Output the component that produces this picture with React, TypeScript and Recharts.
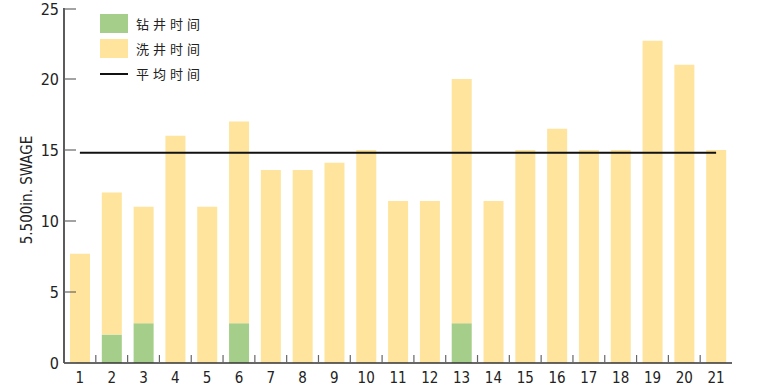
import { Bar, ComposedChart, Line, XAxis, YAxis } from "recharts";

const wells = ["1", "2", "3", "4", "5", "6", "7", "8", "9", "10", "11", "12", "13", "14", "15", "16", "17", "18", "19", "20", "21"];
const drillTime = [0, 2, 2.8, 0, 0, 2.8, 0, 0, 0, 0, 0, 0, 2.8, 0, 0, 0, 0, 0, 0, 0, 0];
const washTime = [7.7, 10, 8.2, 16, 11, 14.2, 13.6, 13.6, 14.1, 15, 11.4, 11.4, 17.2, 11.4, 15, 16.5, 15, 15, 22.7, 21, 15];
const avgTime = 14.8;
const yTicks = [0, 5, 10, 15, 20, 25];

const legendItems = [
  { label: "钻井时间", kind: "box", color: "#A4CE8A" },
  { label: "洗井时间", kind: "box", color: "#FEE49C" },
  { label: "平均时间", kind: "line", color: "#111" },
];

const W = 775;
const H = 388;
const PLOT_LEFT = 64;
const PLOT_RIGHT = 732;
const PLOT_TOP = 8;
const PLOT_BOTTOM = 363;
const BAND = (PLOT_RIGHT - PLOT_LEFT) / wells.length;
const FONT = '"Liberation Sans Narrow", "DejaVu Sans Condensed", "Liberation Sans", sans-serif';
const AXIS = { stroke: "#333", strokeWidth: 1.6 };

const rows = wells.map((w, i) => ({ well: w, drill: drillTime[i], wash: washTime[i], avg: avgTime }));

function WellTick({ x, payload, index }: any) {
  const bx = x - BAND / 2;
  return (
    <g>
      {index > 0 && <line x1={bx} x2={bx} y1={PLOT_BOTTOM} y2={PLOT_BOTTOM - 8} stroke="#666" strokeWidth={1.2} />}
      <text x={x} y={PLOT_BOTTOM + 20} textAnchor="middle" fontSize={15} fontFamily={FONT} fill="#222">
        {payload.value}
      </text>
    </g>
  );
}

function ValueTick({ y, payload }: any) {
  return (
    <g>
      <line x1={PLOT_LEFT} x2={PLOT_LEFT + 12} y1={y} y2={y} stroke="#666" strokeWidth={1.2} />
      <text x={PLOT_LEFT - 5} y={y + 6} textAnchor="end" fontSize={16} fontFamily={FONT} fill="#222">
        {payload.value}
      </text>
    </g>
  );
}

function Legend() {
  return (
    <div style={{ position: "absolute", left: 100, top: 13, fontFamily: '"Noto Sans CJK SC", sans-serif', fontSize: 13, color: "#222" }}>
      {legendItems.map((it) => (
        <div key={it.label} style={{ display: "flex", alignItems: "center", height: 29, marginTop: -4 }}>
          <div style={{ width: 28, height: 19, display: "flex", alignItems: "center" }}>
            {it.kind === "box" ? (
              <div style={{ width: 28, height: 19, background: it.color }} />
            ) : (
              <div style={{ width: 28, height: 2, background: it.color }} />
            )}
          </div>
          <span style={{ marginLeft: 8, letterSpacing: 4 }}>{it.label}</span>
        </div>
      ))}
    </div>
  );
}

export default function App() {
  return (
    <div style={{ position: "absolute", left: 0, top: 0, width: W, height: H, background: "#fff" }}>
      <ComposedChart
        width={W}
        height={H}
        data={rows}
        margin={{ top: PLOT_TOP, right: W - PLOT_RIGHT, bottom: 0, left: PLOT_LEFT - 40 }}
        barCategoryGap="18%"
      >
        <XAxis dataKey="well" height={H - PLOT_BOTTOM} tick={<WellTick />} tickLine={false} axisLine={AXIS} interval={0} />
        <XAxis dataKey="well" xAxisId="top" orientation="top" height={0} tick={false} tickLine={false} axisLine={AXIS} />
        <YAxis
          width={40}
          domain={[0, 25]}
          ticks={yTicks}
          tick={<ValueTick />}
          tickLine={false}
          axisLine={AXIS}
          label={{
            content: () => (
              <text
                x={27}
                y={190}
                transform="rotate(-90 27 190)"
                textAnchor="middle"
                dominantBaseline="central"
                fontSize={15}
                fontFamily={FONT}
                fill="#222"
              >
                5.500in. SWAGE
              </text>
            ),
          }}
        />
        <YAxis yAxisId="right" orientation="right" width={0} domain={[0, 25]} tick={false} tickLine={false} axisLine={AXIS} />
        <Bar dataKey="drill" stackId="t" fill="#A4CE8A" barSize={20} isAnimationActive={false} />
        <Bar dataKey="wash" stackId="t" fill="#FEE49C" barSize={20} isAnimationActive={false} />
        <Line dataKey="avg" stroke="#111" strokeWidth={2} dot={false} activeDot={false} isAnimationActive={false} />
      </ComposedChart>
      <Legend />
    </div>
  );
}
